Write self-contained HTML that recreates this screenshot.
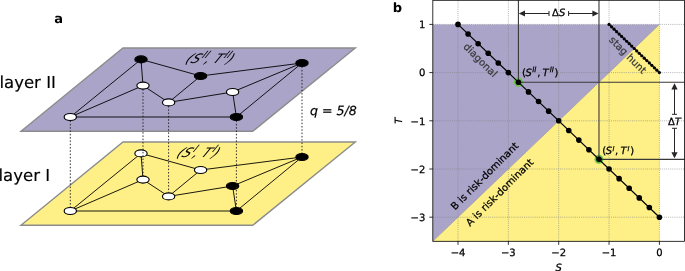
<!DOCTYPE html>
<html><head><meta charset="utf-8"><title>figure</title>
<style>
html,body{margin:0;padding:0;background:#fff;}
body{width:685px;height:271px;overflow:hidden;}
svg{display:block;}
text{font-family:"DejaVu Sans","Liberation Sans",sans-serif;fill:#000;text-rendering:geometricPrecision;}
.lab{font-family:"DejaVu Sans","Liberation Sans",sans-serif;font-weight:bold;font-size:13px;}
.tk{font-size:10px;stroke:#000;stroke-width:0.25px;}
.it{font-style:italic;}
</style></head><body>
<svg width="685" height="271" viewBox="0 0 685 271">
<rect x="0" y="0" width="685" height="271" fill="#fff"/>

<text class="lab" x="54.3" y="22.5">a</text>
<text x="-0.6" y="87.5" font-size="16.55" stroke="#000" stroke-width="0.15">layer II</text>
<text x="-1.5" y="181.0" font-size="16.55" stroke="#000" stroke-width="0.15">layer I</text>
<polygon points="123.0,142.0 355.3,142.0 252.7,225.3 21.0,225.3" fill="#fef086" stroke="#8c8c8c" stroke-width="1.4" stroke-linejoin="miter"/>
<polygon points="123.0,48.0 355.3,48.0 252.7,131.3 21.0,131.3" fill="#aaa4c9" stroke="#8c8c8c" stroke-width="1.4" stroke-linejoin="miter"/>
<line x1="70.3" y1="211.0" x2="141.0" y2="153.4" stroke="#000" stroke-width="0.9"/>
<line x1="70.3" y1="211.0" x2="143.0" y2="179.6" stroke="#000" stroke-width="0.9"/>
<line x1="70.3" y1="211.0" x2="236.4" y2="211.0" stroke="#000" stroke-width="0.9"/>
<line x1="141.0" y1="153.4" x2="143.0" y2="179.6" stroke="#000" stroke-width="0.9"/>
<line x1="141.0" y1="153.4" x2="200.6" y2="170.0" stroke="#000" stroke-width="0.9"/>
<line x1="143.0" y1="179.6" x2="168.6" y2="196.4" stroke="#000" stroke-width="0.9"/>
<line x1="168.6" y1="196.4" x2="200.6" y2="170.0" stroke="#000" stroke-width="0.9"/>
<line x1="168.6" y1="196.4" x2="232.6" y2="186.0" stroke="#000" stroke-width="0.9"/>
<line x1="200.6" y1="170.0" x2="302.0" y2="157.0" stroke="#000" stroke-width="0.9"/>
<line x1="232.6" y1="186.0" x2="302.0" y2="157.0" stroke="#000" stroke-width="0.9"/>
<line x1="232.6" y1="186.0" x2="236.4" y2="211.0" stroke="#000" stroke-width="0.9"/>
<line x1="236.4" y1="211.0" x2="302.0" y2="157.0" stroke="#000" stroke-width="0.9"/>
<line x1="70.3" y1="117.0" x2="141.0" y2="59.4" stroke="#000" stroke-width="0.9"/>
<line x1="70.3" y1="117.0" x2="143.0" y2="85.6" stroke="#000" stroke-width="0.9"/>
<line x1="70.3" y1="117.0" x2="236.4" y2="117.0" stroke="#000" stroke-width="0.9"/>
<line x1="141.0" y1="59.4" x2="143.0" y2="85.6" stroke="#000" stroke-width="0.9"/>
<line x1="141.0" y1="59.4" x2="200.6" y2="76.0" stroke="#000" stroke-width="0.9"/>
<line x1="143.0" y1="85.6" x2="168.6" y2="102.4" stroke="#000" stroke-width="0.9"/>
<line x1="168.6" y1="102.4" x2="200.6" y2="76.0" stroke="#000" stroke-width="0.9"/>
<line x1="168.6" y1="102.4" x2="232.6" y2="92.0" stroke="#000" stroke-width="0.9"/>
<line x1="200.6" y1="76.0" x2="302.0" y2="63.0" stroke="#000" stroke-width="0.9"/>
<line x1="232.6" y1="92.0" x2="302.0" y2="63.0" stroke="#000" stroke-width="0.9"/>
<line x1="232.6" y1="92.0" x2="236.4" y2="117.0" stroke="#000" stroke-width="0.9"/>
<line x1="236.4" y1="117.0" x2="302.0" y2="63.0" stroke="#000" stroke-width="0.9"/>
<ellipse cx="70.3" cy="211.0" rx="6.15" ry="3.5" fill="#fff" stroke="#000" stroke-width="1.15"/>
<ellipse cx="141.0" cy="153.4" rx="6.15" ry="3.5" fill="#fff" stroke="#000" stroke-width="1.15"/>
<ellipse cx="143.0" cy="179.6" rx="6.15" ry="3.5" fill="#fff" stroke="#000" stroke-width="1.15"/>
<ellipse cx="168.6" cy="196.4" rx="6.15" ry="3.5" fill="#fff" stroke="#000" stroke-width="1.15"/>
<ellipse cx="200.6" cy="170.0" rx="6.15" ry="3.5" fill="#fff" stroke="#000" stroke-width="1.15"/>
<ellipse cx="302.0" cy="157.0" rx="6.15" ry="3.5" fill="#000" stroke="#000" stroke-width="1.15"/>
<ellipse cx="232.6" cy="186.0" rx="6.15" ry="3.5" fill="#000" stroke="#000" stroke-width="1.15"/>
<ellipse cx="236.4" cy="211.0" rx="6.15" ry="3.5" fill="#000" stroke="#000" stroke-width="1.15"/>
<ellipse cx="70.3" cy="117.0" rx="6.15" ry="3.5" fill="#fff" stroke="#000" stroke-width="1.15"/>
<ellipse cx="141.0" cy="59.4" rx="6.15" ry="3.5" fill="#000" stroke="#000" stroke-width="1.15"/>
<ellipse cx="143.0" cy="85.6" rx="6.15" ry="3.5" fill="#fff" stroke="#000" stroke-width="1.15"/>
<ellipse cx="168.6" cy="102.4" rx="6.15" ry="3.5" fill="#fff" stroke="#000" stroke-width="1.15"/>
<ellipse cx="200.6" cy="76.0" rx="6.15" ry="3.5" fill="#000" stroke="#000" stroke-width="1.15"/>
<ellipse cx="302.0" cy="63.0" rx="6.15" ry="3.5" fill="#000" stroke="#000" stroke-width="1.15"/>
<ellipse cx="232.6" cy="92.0" rx="6.15" ry="3.5" fill="#fff" stroke="#000" stroke-width="1.15"/>
<ellipse cx="236.4" cy="117.0" rx="6.15" ry="3.5" fill="#000" stroke="#000" stroke-width="1.15"/>
<line x1="70.3" y1="120.6" x2="70.3" y2="207.4" stroke="#1a1a1a" stroke-width="0.9" stroke-dasharray="1.5 1.8"/>
<line x1="143.0" y1="89.2" x2="143.0" y2="176.0" stroke="#1a1a1a" stroke-width="0.9" stroke-dasharray="1.5 1.8"/>
<line x1="168.6" y1="106.0" x2="168.6" y2="192.8" stroke="#1a1a1a" stroke-width="0.9" stroke-dasharray="1.5 1.8"/>
<line x1="236.4" y1="120.6" x2="236.4" y2="207.4" stroke="#1a1a1a" stroke-width="0.9" stroke-dasharray="1.5 1.8"/>
<line x1="302.0" y1="66.6" x2="302.0" y2="153.4" stroke="#1a1a1a" stroke-width="0.9" stroke-dasharray="1.5 1.8"/>
<g transform="translate(184.6,63.4) skewX(-33)"><text class="it" font-size="13" x="0" y="0">(S<tspan font-size="9.8" dy="-5.3">II</tspan><tspan dy="5.3">, T</tspan><tspan font-size="9.8" dy="-5.3">II</tspan><tspan dy="5.3">)</tspan></text></g>
<g transform="translate(175.8,157.4) skewX(-33)"><text class="it" font-size="13" x="0" y="0">(S<tspan font-size="9.8" dy="-5.3">I</tspan><tspan dy="5.3">, T</tspan><tspan font-size="9.8" dy="-5.3">I</tspan><tspan dy="5.3">)</tspan></text></g>
<text class="it" font-size="12.6" x="310" y="114.5" stroke="#000" stroke-width="0.2">q = 5/8</text>
<text class="lab" x="392.7" y="12">b</text>
<polygon points="432.82,24.40 659.40,24.40 432.82,241.30" fill="#aaa4c9"/>
<polygon points="659.40,24.40 659.40,241.30 432.82,241.30" fill="#fef086"/>
<line x1="432.82" y1="241.30" x2="659.40" y2="24.40" stroke="#9a95a0" stroke-width="0.8"/>
<line x1="458.00" y1="0.30" x2="458.00" y2="241.30" stroke="#808080" stroke-opacity="0.6" stroke-width="1" stroke-dasharray="1 1.12"/>
<line x1="508.35" y1="0.30" x2="508.35" y2="241.30" stroke="#808080" stroke-opacity="0.6" stroke-width="1" stroke-dasharray="1 1.12"/>
<line x1="558.70" y1="0.30" x2="558.70" y2="241.30" stroke="#808080" stroke-opacity="0.6" stroke-width="1" stroke-dasharray="1 1.12"/>
<line x1="609.05" y1="0.30" x2="609.05" y2="241.30" stroke="#808080" stroke-opacity="0.6" stroke-width="1" stroke-dasharray="1 1.12"/>
<line x1="659.40" y1="0.30" x2="659.40" y2="241.30" stroke="#808080" stroke-opacity="0.6" stroke-width="1" stroke-dasharray="1 1.12"/>
<line x1="432.82" y1="24.40" x2="684.57" y2="24.40" stroke="#808080" stroke-opacity="0.6" stroke-width="1" stroke-dasharray="1 1.12"/>
<line x1="432.82" y1="72.60" x2="684.57" y2="72.60" stroke="#808080" stroke-opacity="0.6" stroke-width="1" stroke-dasharray="1 1.12"/>
<line x1="432.82" y1="120.80" x2="684.57" y2="120.80" stroke="#808080" stroke-opacity="0.6" stroke-width="1" stroke-dasharray="1 1.12"/>
<line x1="432.82" y1="169.00" x2="684.57" y2="169.00" stroke="#808080" stroke-opacity="0.6" stroke-width="1" stroke-dasharray="1 1.12"/>
<line x1="432.82" y1="217.20" x2="684.57" y2="217.20" stroke="#808080" stroke-opacity="0.6" stroke-width="1" stroke-dasharray="1 1.12"/>
<circle cx="518.42" cy="82.24" r="4.5" fill="#68c444"/>
<circle cx="598.98" cy="159.36" r="4.5" fill="#68c444"/>
<line x1="518.42" y1="0.30" x2="518.42" y2="82.24" stroke="#383838" stroke-width="1.1"/>
<line x1="598.98" y1="0.30" x2="598.98" y2="159.36" stroke="#383838" stroke-width="1.1"/>
<line x1="518.42" y1="82.24" x2="684.57" y2="82.24" stroke="#383838" stroke-width="1.1"/>
<line x1="598.98" y1="159.36" x2="684.57" y2="159.36" stroke="#383838" stroke-width="1.1"/>
<line x1="458.00" y1="24.40" x2="659.40" y2="217.20" stroke="#000" stroke-width="1.2"/>
<circle cx="458.00" cy="24.40" r="2.8" fill="#000"/>
<circle cx="468.07" cy="34.04" r="2.8" fill="#000"/>
<circle cx="478.14" cy="43.68" r="2.8" fill="#000"/>
<circle cx="488.21" cy="53.32" r="2.8" fill="#000"/>
<circle cx="498.28" cy="62.96" r="2.8" fill="#000"/>
<circle cx="508.35" cy="72.60" r="2.8" fill="#000"/>
<circle cx="518.42" cy="82.24" r="2.8" fill="#000"/>
<circle cx="528.49" cy="91.88" r="2.8" fill="#000"/>
<circle cx="538.56" cy="101.52" r="2.8" fill="#000"/>
<circle cx="548.63" cy="111.16" r="2.8" fill="#000"/>
<circle cx="558.70" cy="120.80" r="2.8" fill="#000"/>
<circle cx="568.77" cy="130.44" r="2.8" fill="#000"/>
<circle cx="578.84" cy="140.08" r="2.8" fill="#000"/>
<circle cx="588.91" cy="149.72" r="2.8" fill="#000"/>
<circle cx="598.98" cy="159.36" r="2.8" fill="#000"/>
<circle cx="609.05" cy="169.00" r="2.8" fill="#000"/>
<circle cx="619.12" cy="178.64" r="2.8" fill="#000"/>
<circle cx="629.19" cy="188.28" r="2.8" fill="#000"/>
<circle cx="639.26" cy="197.92" r="2.8" fill="#000"/>
<circle cx="649.33" cy="207.56" r="2.8" fill="#000"/>
<circle cx="659.40" cy="217.20" r="2.8" fill="#000"/>
<line x1="609.05" y1="24.40" x2="659.40" y2="72.60" stroke="#000" stroke-width="1.1"/>
<circle cx="609.05" cy="24.40" r="1.6" fill="#000"/>
<circle cx="611.57" cy="26.81" r="1.6" fill="#000"/>
<circle cx="614.08" cy="29.22" r="1.6" fill="#000"/>
<circle cx="616.60" cy="31.63" r="1.6" fill="#000"/>
<circle cx="619.12" cy="34.04" r="1.6" fill="#000"/>
<circle cx="621.64" cy="36.45" r="1.6" fill="#000"/>
<circle cx="624.15" cy="38.86" r="1.6" fill="#000"/>
<circle cx="626.67" cy="41.27" r="1.6" fill="#000"/>
<circle cx="629.19" cy="43.68" r="1.6" fill="#000"/>
<circle cx="631.71" cy="46.09" r="1.6" fill="#000"/>
<circle cx="634.23" cy="48.50" r="1.6" fill="#000"/>
<circle cx="636.74" cy="50.91" r="1.6" fill="#000"/>
<circle cx="639.26" cy="53.32" r="1.6" fill="#000"/>
<circle cx="641.78" cy="55.73" r="1.6" fill="#000"/>
<circle cx="644.29" cy="58.14" r="1.6" fill="#000"/>
<circle cx="646.81" cy="60.55" r="1.6" fill="#000"/>
<circle cx="649.33" cy="62.96" r="1.6" fill="#000"/>
<circle cx="651.85" cy="65.37" r="1.6" fill="#000"/>
<circle cx="654.37" cy="67.78" r="1.6" fill="#000"/>
<circle cx="656.88" cy="70.19" r="1.6" fill="#000"/>
<circle cx="659.40" cy="72.60" r="1.6" fill="#000"/>
<text class="tk" fill="#3a3a3a" style="fill:#3a3a3a;stroke:#3a3a3a" text-anchor="middle" transform="translate(480.5,60.0) rotate(45)" x="0" y="3.6">diagonal</text>
<text class="tk" fill="#3a3a3a" style="fill:#3a3a3a;stroke:#3a3a3a" text-anchor="middle" transform="translate(628.0,54.8) rotate(45)" x="0" y="3.6">stag hunt</text>
<text class="tk" fill="#000" style="fill:#000;stroke:#000" text-anchor="middle" transform="translate(484.4,176.0) rotate(-45)" x="0" y="3.6">B is risk-dominant</text>
<text class="tk" fill="#000" style="fill:#000;stroke:#000" text-anchor="middle" transform="translate(499.4,192.3) rotate(-45)" x="0" y="3.6">A is risk-dominant</text>
<text class="tk" x="522.0" y="76.2">(<tspan class="it" dx="-0.4">S</tspan><tspan class="it" font-size="7.3" dy="-4.0" dx="0.3">II</tspan><tspan dy="4.0" dx="0.7">,</tspan><tspan class="it" dx="2.2">T</tspan><tspan class="it" font-size="7.3" dy="-4.0" dx="1.0">II</tspan><tspan dy="4.0" dx="0.6">)</tspan></text>
<text class="tk" x="602.3" y="153.6">(<tspan class="it" dx="-0.4">S</tspan><tspan class="it" font-size="6.6" dy="-3.0" dx="0.3">I</tspan><tspan dy="3.0" dx="0.7">,</tspan><tspan class="it" dx="2.2">T</tspan><tspan class="it" font-size="6.6" dy="-3.0" dx="1.0">I</tspan><tspan dy="3.0" dx="0.6">)</tspan></text>
<line x1="549.00" y1="13.50" x2="521.82" y2="13.50" stroke="#262626" stroke-width="1"/><line x1="549.00" y1="11.00" x2="549.00" y2="16.00" stroke="#262626" stroke-width="1"/><polygon points="518.82,13.50 525.02,10.40 525.02,16.60" fill="#262626"/>
<line x1="568.60" y1="13.50" x2="595.58" y2="13.50" stroke="#262626" stroke-width="1"/><line x1="568.60" y1="11.00" x2="568.60" y2="16.00" stroke="#262626" stroke-width="1"/><polygon points="598.58,13.50 592.38,10.40 592.38,16.60" fill="#262626"/>
<text class="tk" text-anchor="middle" x="558.7" y="16.4">Δ<tspan class="it">S</tspan></text>
<line x1="674.50" y1="114.30" x2="674.50" y2="86.24" stroke="#262626" stroke-width="1"/><line x1="672.00" y1="114.30" x2="677.00" y2="114.30" stroke="#262626" stroke-width="1"/><polygon points="674.50,83.24 671.40,89.44 677.61,89.44" fill="#262626"/>
<line x1="674.50" y1="128.30" x2="674.50" y2="155.36" stroke="#262626" stroke-width="1"/><line x1="672.00" y1="128.30" x2="677.00" y2="128.30" stroke="#262626" stroke-width="1"/><polygon points="674.50,158.36 671.40,152.16 677.61,152.16" fill="#262626"/>
<text class="tk" text-anchor="middle" x="674.5" y="125">Δ<tspan class="it">T</tspan></text>
<rect x="432.82" y="0.30" width="251.75" height="241.00" fill="none" stroke="#000" stroke-width="0.8"/>
<line x1="458.00" y1="241.30" x2="458.00" y2="244.80" stroke="#000" stroke-width="0.8"/>
<text class="tk" text-anchor="middle" x="458.00" y="256.3">−4</text>
<line x1="508.35" y1="241.30" x2="508.35" y2="244.80" stroke="#000" stroke-width="0.8"/>
<text class="tk" text-anchor="middle" x="508.35" y="256.3">−3</text>
<line x1="558.70" y1="241.30" x2="558.70" y2="244.80" stroke="#000" stroke-width="0.8"/>
<text class="tk" text-anchor="middle" x="558.70" y="256.3">−2</text>
<line x1="609.05" y1="241.30" x2="609.05" y2="244.80" stroke="#000" stroke-width="0.8"/>
<text class="tk" text-anchor="middle" x="609.05" y="256.3">−1</text>
<line x1="659.40" y1="241.30" x2="659.40" y2="244.80" stroke="#000" stroke-width="0.8"/>
<text class="tk" text-anchor="middle" x="659.40" y="256.3">0</text>
<line x1="429.32" y1="24.40" x2="432.82" y2="24.40" stroke="#000" stroke-width="0.8"/>
<text class="tk" text-anchor="end" x="425.3" y="28.20">1</text>
<line x1="429.32" y1="72.60" x2="432.82" y2="72.60" stroke="#000" stroke-width="0.8"/>
<text class="tk" text-anchor="end" x="425.3" y="76.40">0</text>
<line x1="429.32" y1="120.80" x2="432.82" y2="120.80" stroke="#000" stroke-width="0.8"/>
<text class="tk" text-anchor="end" x="425.3" y="124.60">−1</text>
<line x1="429.32" y1="169.00" x2="432.82" y2="169.00" stroke="#000" stroke-width="0.8"/>
<text class="tk" text-anchor="end" x="425.3" y="172.80">−2</text>
<line x1="429.32" y1="217.20" x2="432.82" y2="217.20" stroke="#000" stroke-width="0.8"/>
<text class="tk" text-anchor="end" x="425.3" y="221.00">−3</text>
<text class="tk it" text-anchor="middle" x="558.7" y="270.6">S</text>
<text class="tk it" text-anchor="middle" transform="translate(402.3,120.8) rotate(-90)" x="0" y="0">T</text>
</svg></body></html>
